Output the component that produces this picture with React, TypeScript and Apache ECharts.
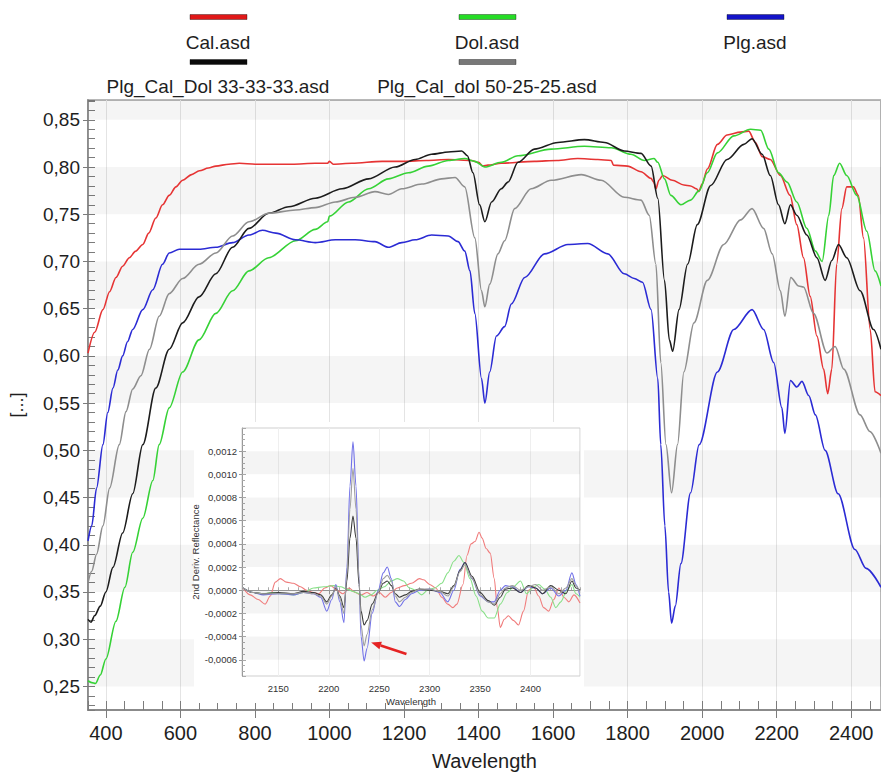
import React, { useEffect, useRef } from "react";
import * as echarts from "echarts";

const FONT = '"Liberation Sans", Arial, Helvetica, sans-serif';

// ---------- series meta ----------
const seriesNames = [
  "Cal.asd",
  "Dol.asd",
  "Plg.asd",
  "Plg_Cal_Dol 33-33-33.asd",
  "Plg_Cal_dol 50-25-25.asd",
];
const mainColors = ["#e63434", "#36d236", "#2b2bd4", "#1c1c1c", "#8e8e8e"];
const insetColors = ["#f07c7c", "#88e088", "#7070e8", "#3a3a3a", "#9e9e9e"];
const legendColors = ["#e01818", "#26dc26", "#1414c8", "#0a0a0a", "#787878"];

// ---------- main spectra: [wavelength nm, reflectance] ----------
const calSpectrum: number[][] = [
  [352, 0.603], [370, 0.625], [392, 0.649], [410, 0.668], [427, 0.683], [445, 0.695],
  [463, 0.704], [480, 0.711], [499, 0.718], [515, 0.73], [534, 0.746], [552, 0.76],
  [570, 0.77], [588, 0.779], [606, 0.786], [630, 0.792], [651, 0.796], [675, 0.799],
  [695, 0.801], [730, 0.803], [758, 0.804], [801, 0.803], [850, 0.803], [900, 0.803],
  [962, 0.804], [995, 0.804], [1000, 0.806], [1010, 0.803], [1060, 0.804], [1141, 0.806],
  [1200, 0.806], [1260, 0.807], [1319, 0.808], [1381, 0.807], [1400, 0.805], [1412, 0.801],
  [1425, 0.802], [1461, 0.804], [1550, 0.806], [1610, 0.807], [1666, 0.809], [1720, 0.808],
  [1756, 0.807], [1762, 0.802], [1800, 0.801], [1836, 0.795], [1863, 0.788], [1870, 0.784],
  [1876, 0.777], [1884, 0.786], [1894, 0.791], [1920, 0.786], [1951, 0.781], [1969, 0.78],
  [1985, 0.777], [1991, 0.774], [2000, 0.782], [2014, 0.798], [2041, 0.824], [2067, 0.834],
  [2103, 0.837], [2125, 0.838], [2143, 0.826], [2161, 0.811], [2183, 0.808], [2210, 0.791],
  [2236, 0.77], [2254, 0.739], [2272, 0.704], [2290, 0.663], [2308, 0.621], [2326, 0.586],
  [2337, 0.56], [2348, 0.586], [2361, 0.697], [2375, 0.756], [2388, 0.779], [2406, 0.779],
  [2419, 0.77], [2433, 0.725], [2451, 0.628], [2464, 0.562], [2480, 0.558],
];

const dolSpectrum: number[][] = [
  [352, 0.256], [362, 0.254], [372, 0.253], [385, 0.262], [400, 0.279], [427, 0.319],
  [451, 0.355], [472, 0.392], [499, 0.428], [526, 0.468], [543, 0.506], [570, 0.545],
  [606, 0.583], [650, 0.617], [695, 0.645], [740, 0.669], [784, 0.69], [837, 0.704],
  [909, 0.722], [962, 0.734], [995, 0.742], [1000, 0.748], [1051, 0.763], [1105, 0.777],
  [1158, 0.7875], [1212, 0.794], [1265, 0.801], [1319, 0.807], [1363, 0.809], [1390, 0.806],
  [1417, 0.8], [1461, 0.805], [1506, 0.812], [1595, 0.819], [1684, 0.822], [1756, 0.8205],
  [1809, 0.8135], [1845, 0.807], [1871, 0.809], [1881, 0.805], [1899, 0.7875], [1916, 0.77],
  [1943, 0.76], [1969, 0.765], [1992, 0.775], [2014, 0.794], [2041, 0.815], [2085, 0.833],
  [2130, 0.84], [2157, 0.839], [2179, 0.819], [2205, 0.794], [2228, 0.784], [2254, 0.763],
  [2281, 0.735], [2304, 0.711], [2322, 0.7], [2340, 0.749], [2353, 0.791], [2369, 0.804],
  [2388, 0.791], [2415, 0.77], [2442, 0.732], [2464, 0.69], [2480, 0.674],
];

const plgSpectrum: number[][] = [
  [352, 0.404], [362, 0.42], [375, 0.46], [392, 0.506], [405, 0.54], [419, 0.566],
  [432, 0.585], [445, 0.6], [458, 0.615], [472, 0.628], [499, 0.649], [526, 0.67],
  [552, 0.697], [570, 0.709], [597, 0.713], [650, 0.713], [695, 0.715], [740, 0.72],
  [784, 0.728], [820, 0.733], [856, 0.73], [909, 0.723], [962, 0.72], [1016, 0.723],
  [1069, 0.723], [1122, 0.721], [1158, 0.715], [1194, 0.72], [1230, 0.723], [1274, 0.728],
  [1319, 0.727], [1345, 0.721], [1363, 0.711], [1377, 0.69], [1390, 0.645], [1408, 0.576],
  [1417, 0.55], [1430, 0.583], [1448, 0.621], [1470, 0.631], [1488, 0.655], [1524, 0.683],
  [1577, 0.708], [1640, 0.718], [1693, 0.719], [1747, 0.708], [1791, 0.687], [1818, 0.682],
  [1840, 0.678], [1863, 0.649], [1881, 0.576], [1889, 0.506], [1900, 0.42], [1910, 0.35],
  [1918, 0.317], [1928, 0.335], [1943, 0.38], [1969, 0.455], [1992, 0.506], [2041, 0.583],
  [2085, 0.628], [2134, 0.649], [2165, 0.628], [2192, 0.593], [2214, 0.545], [2222, 0.518],
  [2237, 0.574], [2254, 0.567], [2268, 0.573], [2286, 0.558], [2304, 0.5375], [2330, 0.5],
  [2365, 0.454], [2410, 0.395], [2440, 0.375], [2480, 0.355],
];

const mix333333Spectrum: number[][] = [
  [352, 0.321], [360, 0.318], [370, 0.325], [385, 0.335], [400, 0.35], [419, 0.376],
  [445, 0.4125], [472, 0.454], [499, 0.506], [534, 0.566], [570, 0.607], [606, 0.635],
  [650, 0.6625], [695, 0.687], [740, 0.715], [784, 0.735], [837, 0.751], [891, 0.758],
  [962, 0.767], [1034, 0.777], [1105, 0.7875], [1176, 0.8], [1230, 0.808], [1274, 0.8135],
  [1319, 0.816], [1355, 0.817], [1370, 0.812], [1385, 0.794], [1403, 0.76], [1417, 0.742],
  [1435, 0.763], [1461, 0.777], [1479, 0.784], [1506, 0.805], [1550, 0.819], [1613, 0.826],
  [1684, 0.829], [1738, 0.826], [1791, 0.817], [1836, 0.8145], [1863, 0.801], [1881, 0.767],
  [1899, 0.68], [1912, 0.617], [1921, 0.605], [1938, 0.649], [1961, 0.697], [1987, 0.739],
  [2023, 0.7805], [2067, 0.808], [2112, 0.824], [2134, 0.83], [2161, 0.8135], [2183, 0.791],
  [2205, 0.76], [2222, 0.74], [2237, 0.76], [2254, 0.749], [2281, 0.728], [2308, 0.704],
  [2330, 0.68], [2348, 0.701], [2366, 0.718], [2388, 0.704], [2424, 0.669], [2460, 0.628],
  [2480, 0.607],
];

const mix502525Spectrum: number[][] = [
  [352, 0.36], [362, 0.372], [375, 0.39], [392, 0.42], [410, 0.46], [436, 0.506],
  [454, 0.541], [472, 0.565], [494, 0.579], [517, 0.607], [543, 0.642], [570, 0.666],
  [606, 0.682], [650, 0.697], [695, 0.709], [740, 0.727], [784, 0.742], [837, 0.751],
  [909, 0.7545], [962, 0.757], [1016, 0.763], [1069, 0.768], [1122, 0.774], [1158, 0.771],
  [1194, 0.777], [1248, 0.782], [1301, 0.7875], [1337, 0.789], [1363, 0.779], [1390, 0.725],
  [1408, 0.669], [1417, 0.652], [1430, 0.676], [1452, 0.708], [1470, 0.722], [1497, 0.756],
  [1541, 0.777], [1595, 0.786], [1676, 0.792], [1729, 0.786], [1791, 0.768], [1836, 0.765],
  [1858, 0.749], [1876, 0.697], [1889, 0.593], [1903, 0.506], [1918, 0.455], [1934, 0.506],
  [1951, 0.583], [1978, 0.635], [2014, 0.68], [2058, 0.718], [2103, 0.744], [2134, 0.756],
  [2165, 0.735], [2188, 0.708], [2210, 0.669], [2222, 0.642], [2238, 0.683], [2259, 0.674],
  [2272, 0.673], [2299, 0.645], [2335, 0.603], [2357, 0.61], [2380, 0.586], [2424, 0.5375],
  [2450, 0.52], [2480, 0.497],
];

// ---------- inset: 2nd derivative spectra ----------
const calDeriv: number[][] = [
  [2115, 0.00002], [2122, -0.00004], [2130, -0.00008], [2137, -0.00012], [2142, -0.00005],
  [2147, 0.00007], [2152, 0.0001], [2158, 0.00007], [2165, 0.00006], [2172, 0.00003],
  [2178, 0], [2185, -0.00002], [2190, -0.00003], [2196, 0.00002], [2202, 0.00004],
  [2208, 0], [2214, -0.00003], [2220, 0.00002], [2226, -0.00002], [2232, -0.00004],
  [2238, -0.00002], [2244, -0.00005], [2250, -0.00002], [2256, -0.00006], [2262, -0.00002],
  [2268, 0.00002], [2275, 0.00004], [2282, 0.00006], [2290, 0.0001], [2294, 0.00009],
  [2300, 0.00005], [2306, 0.00002], [2312, -0.00006], [2318, -0.00012], [2323, -0.00015],
  [2327, -0.00012], [2333, 0.00005], [2337, 0.0003], [2341, 0.0004], [2345, 0.00042],
  [2349, 0.0005], [2352, 0.00045], [2356, 0.00036], [2360, 0.00032], [2364, 0.0001],
  [2367, -0.00015], [2370, -0.00032], [2374, -0.00025], [2378, -0.00022], [2383, -0.00026],
  [2388, -0.0003], [2393, -0.00018], [2398, 0], [2403, 0.00003], [2408, -0.00005],
  [2413, -0.00015], [2418, -0.00018], [2423, -0.00008], [2428, 0.00002], [2433, -0.00006],
  [2438, -0.0001], [2443, -0.00004], [2449, -0.00011],
];

const dolDeriv: number[][] = [
  [2115, 0.00002], [2125, -0.00002], [2135, -0.00003], [2145, -0.00002], [2155, -0.00003],
  [2165, -0.00004], [2175, -0.00002], [2185, 0.00002], [2195, 0.00003], [2205, 0.00004],
  [2212, 0.00003], [2218, 0.00001], [2224, -0.00001], [2230, -0.00003], [2236, -0.00006],
  [2242, -0.00004], [2248, 0], [2255, 0.00003], [2262, 0.00008], [2268, 0.0001],
  [2274, 0.00008], [2280, 0.00002], [2286, 0], [2292, -0.00004], [2298, 0], [2305, 0.00002],
  [2312, 0.00006], [2318, 0.00015], [2324, 0.00025], [2329, 0.0003], [2334, 0.00024],
  [2340, 0.0001], [2346, -0.00005], [2352, -0.00018], [2358, -0.00024], [2364, -0.00024],
  [2370, -0.00012], [2377, -0.00002], [2383, 0.00003], [2390, 0.00008], [2396, -0.00003],
  [2402, 0.00002], [2408, 0.00005], [2414, 0.00001], [2420, -0.00006], [2425, -0.00015],
  [2430, -0.0001], [2436, 0], [2441, 0.00005], [2445, -0.00003], [2449, -0.00006],
];

const plgDeriv: number[][] = [
  [2115, 0.00002], [2125, -0.00002], [2135, -0.00004], [2150, -0.00003], [2165, -0.00004],
  [2175, -0.00002], [2185, -0.00003], [2192, -0.00006], [2198, -0.00018], [2203, -0.00008],
  [2207, 0.00005], [2211, -0.0001], [2215, -0.00028], [2218, 0.0002], [2221, 0.0009],
  [2224, 0.00128], [2227, 0.0009], [2230, 0.0001], [2232, -0.0004], [2235, -0.00061],
  [2238, -0.0005], [2243, -0.0002], [2249, 0], [2254, 0.00015], [2258, 0.0002],
  [2262, 0.0001], [2266, -0.0001], [2270, -0.00014], [2276, -0.00008], [2282, -0.00003],
  [2290, 0], [2300, 0.00001], [2310, -0.00002], [2318, -0.0001], [2324, 0], [2330, 0.00018],
  [2335, 0.00024], [2342, 0.0001], [2350, -0.00005], [2358, -0.0001], [2364, -0.0001],
  [2370, 0], [2375, 0.00004], [2382, 0.00003], [2390, -0.00002], [2398, 0.00003],
  [2405, 0.00002], [2412, -0.00003], [2420, 0.00002], [2428, -0.00005], [2435, 0],
  [2441, 0.00015], [2445, 0.00005], [2449, -0.00005],
];

const mix333333Deriv: number[][] = [
  [2115, 0.00002], [2125, -0.00002], [2135, -0.00003], [2150, -0.00002], [2165, -0.00003],
  [2175, -0.00001], [2185, -0.00002], [2192, -0.00004], [2198, -0.0001], [2203, -0.00004],
  [2207, 0.00002], [2211, -0.00005], [2215, -0.00015], [2218, 0.00008], [2221, 0.00045],
  [2224, 0.00064], [2227, 0.00045], [2230, 0.00005], [2232, -0.00018], [2235, -0.0003],
  [2238, -0.00026], [2243, -0.00012], [2249, -0.00002], [2254, 0.00006], [2258, 0.00008],
  [2262, 0.00004], [2266, -0.00003], [2270, -0.00006], [2276, -0.00004], [2282, -0.00001],
  [2290, 0.00001], [2300, 0], [2310, -0.00001], [2318, -0.00003], [2324, 0.00004],
  [2330, 0.00017], [2335, 0.00024], [2342, 0.00012], [2350, -0.00002], [2358, -0.00009],
  [2364, -0.00013], [2370, -0.00006], [2375, 0.00001], [2382, 0.00002], [2390, -0.00002],
  [2398, 0.00004], [2405, 0.00002], [2412, -0.00003], [2420, 0.00004], [2428, 0],
  [2435, -0.00003], [2441, 0.00008], [2445, 0.00002], [2449, 0],
];

const mix502525Deriv: number[][] = [
  [2115, 0.00002], [2125, -0.00002], [2135, -0.00003], [2150, -0.00003], [2165, -0.00003],
  [2175, -0.00002], [2185, -0.00003], [2192, -0.00005], [2198, -0.00012], [2203, -0.00005],
  [2207, 0.00003], [2211, -0.00007], [2215, -0.0002], [2218, 0.00015], [2221, 0.0007],
  [2224, 0.00105], [2227, 0.0007], [2230, 0.0001], [2232, -0.0003], [2235, -0.00048],
  [2238, -0.00038], [2243, -0.00017], [2249, -0.00002], [2254, 0.0001], [2258, 0.00013],
  [2262, 0.00008], [2266, -0.00005], [2270, -0.0001], [2276, -0.00006], [2282, -0.00002],
  [2290, 0.00001], [2300, 0.00001], [2310, -0.00001], [2318, -0.00005], [2324, 0.00003],
  [2330, 0.00016], [2335, 0.00022], [2342, 0.0001], [2350, -0.00004], [2358, -0.0001],
  [2364, -0.00012], [2370, -0.00003], [2375, 0.00002], [2382, 0.00004], [2390, 0],
  [2398, 0.00003], [2405, 0.00005], [2412, 0], [2420, 0.00003], [2428, -0.00003],
  [2435, 0.00002], [2441, 0.0001], [2445, 0.00004], [2449, -0.00002],
];

const mainSpectra = [calSpectrum, dolSpectrum, plgSpectrum, mix333333Spectrum, mix502525Spectrum];
const insetSpectra = [calDeriv, dolDeriv, plgDeriv, mix333333Deriv, mix502525Deriv];

// axis ranges
const mainX = { min: 352, max: 2480 };
const mainY = { min: 0.225, max: 0.871 };
const insetX = { min: 2114, max: 2449 };
const insetY = { min: -0.00074, max: 0.0014 };

// shaded horizontal bands (value ranges)
const mainBands = [[0.25, 0.3], [0.35, 0.4], [0.45, 0.5], [0.55, 0.6], [0.65, 0.7], [0.75, 0.8], [0.85, 0.871]];
const insetBands = [[-0.0006, -0.0004], [-0.0002, 0], [0.0002, 0.0004], [0.0006, 0.0008], [0.001, 0.0012]];

// arrow annotation in inset data coordinates (tail -> tip)
const arrowTail = [2277, -0.00055];
const arrowTip = [2242, -0.00045];

// legend layout: [centerX, iconY, textY]
const legendLayout = [
  [218, 17, 42],
  [487, 17, 42],
  [755, 17, 42],
  [218, 62, 86],
  [487, 62, 86],
];

const AX = "#7c7c7c";

function fmtMain(v: number) {
  return v.toFixed(2).replace(".", ",");
}
function fmtInset(v: number) {
  const x = Math.abs(v) < 1e-9 ? 0 : v;
  return x.toFixed(4).replace(".", ",");
}
function fmtPlain(v: number) {
  return String(Math.round(v));
}

function buildOption(): any {
  const bandsToMark = (bands: number[][]) =>
    bands.map(([a, b]) => [{ yAxis: a }, { yAxis: b }]);

  const mainSeries = mainSpectra.map((d, i) => ({
    name: seriesNames[i],
    type: "line",
    xAxisIndex: 0,
    yAxisIndex: 0,
    data: d,
    showSymbol: false,
    smooth: 0.3,
    smoothMonotone: "x",
    lineStyle: { color: mainColors[i], width: 1.6 },
    itemStyle: { color: mainColors[i] },
    z: 3,
    markArea:
      i === 0
        ? {
            silent: true,
            itemStyle: { color: "rgba(0,0,0,0.04)" },
            data: bandsToMark(mainBands),
          }
        : undefined,
  }));

  const insetSeries = insetSpectra.map((d, i) => ({
    name: seriesNames[i] + " (2nd deriv.)",
    type: "line",
    xAxisIndex: 2,
    yAxisIndex: 2,
    data: d,
    showSymbol: false,
    smooth: 0.3,
    smoothMonotone: "x",
    lineStyle: { color: insetColors[i], width: 1.1 },
    itemStyle: { color: insetColors[i] },
    z: 12,
    markArea:
      i === 0
        ? {
            silent: true,
            itemStyle: { color: "rgba(0,0,0,0.045)" },
            data: bandsToMark(insetBands),
            z: 11,
          }
        : undefined,
  }));

  return {
    animation: false,
    backgroundColor: "#ffffff",
    textStyle: { fontFamily: FONT },
    grid: [
      {
        left: 85,
        top: 100,
        right: 0,
        bottom: 56,
        show: true,
        borderColor: "#b8b8b8",
        borderWidth: 2,
        backgroundColor: "transparent",
      },
      {
        left: 242,
        top: 428,
        width: 338,
        height: 248,
        show: true,
        borderColor: "#cfcfcf",
        borderWidth: 1,
        backgroundColor: "transparent",
        z: 10,
      },
    ],
    xAxis: [
      {
        type: "value",
        gridIndex: 0,
        position: "bottom",
        min: mainX.min,
        max: mainX.max,
        splitNumber: 10,
        axisLine: { lineStyle: { color: AX, width: 1.5 } },
        axisTick: { show: true, inside: false, length: 8, lineStyle: { color: AX } },
        axisLabel: {
          fontSize: 20,
          color: "#1e1e1e",
          fontFamily: FONT,
          margin: 13,
          formatter: fmtPlain,
          showMinLabel: false,
          showMaxLabel: false,
        },
        splitLine: { show: true, lineStyle: { color: "#e4e4e4", width: 1 } },
        name: "Wavelength",
        nameLocation: "middle",
        nameGap: 41,
        nameTextStyle: { fontSize: 20, color: "#1e1e1e", fontFamily: FONT },
      },
      {
        type: "value",
        gridIndex: 0,
        position: "bottom",
        min: mainX.min,
        max: mainX.max,
        splitNumber: 10,
        axisLine: { show: false },
        axisTick: { show: true, inside: true, length: 9, lineStyle: { color: AX } },
        minorTick: { show: true, splitNumber: 4, length: 9, lineStyle: { color: AX } },
        axisLabel: { show: false },
        splitLine: { show: false },
      },
      {
        type: "value",
        gridIndex: 1,
        position: "bottom",
        min: insetX.min,
        max: insetX.max,
        splitNumber: 7,
        z: 10,
        axisLine: { lineStyle: { color: "#999", width: 1 } },
        axisTick: { show: true, inside: false, length: 4, lineStyle: { color: "#999" } },
        axisLabel: {
          fontSize: 9.5,
          color: "#333",
          fontFamily: FONT,
          margin: 7,
          formatter: fmtPlain,
          showMinLabel: false,
          showMaxLabel: false,
        },
        splitLine: { show: true, lineStyle: { color: "#efefef" } },
        name: "Wavelength",
        nameLocation: "middle",
        nameGap: 20,
        nameTextStyle: { fontSize: 9.5, color: "#333", fontFamily: FONT },
      },
      {
        type: "value",
        gridIndex: 1,
        position: "bottom",
        min: insetX.min,
        max: insetX.max,
        splitNumber: 7,
        z: 10,
        axisLine: { show: false },
        axisTick: { show: true, inside: true, length: 3, lineStyle: { color: "#aaa" } },
        minorTick: { show: true, splitNumber: 5, length: 3, lineStyle: { color: "#aaa" } },
        axisLabel: { show: false },
        splitLine: { show: false },
      },
    ],
    yAxis: [
      {
        type: "value",
        gridIndex: 0,
        position: "left",
        min: mainY.min,
        max: mainY.max,
        splitNumber: 12,
        axisLine: { show: true, lineStyle: { color: AX, width: 1.5 } },
        axisTick: { show: true, inside: false, length: 5, lineStyle: { color: AX } },
        axisLabel: {
          fontSize: 19,
          color: "#1e1e1e",
          fontFamily: FONT,
          margin: 8,
          formatter: fmtMain,
          showMinLabel: false,
          showMaxLabel: false,
        },
        splitLine: { show: false },
        name: "[...]",
        nameLocation: "middle",
        nameGap: 62,
        nameRotate: 90,
        nameTextStyle: { fontSize: 18, color: "#1e1e1e", fontFamily: FONT },
      },
      {
        type: "value",
        gridIndex: 0,
        position: "left",
        min: mainY.min,
        max: mainY.max,
        splitNumber: 12,
        axisLine: { show: false },
        axisTick: { show: true, inside: true, length: 7, lineStyle: { color: AX } },
        minorTick: { show: true, splitNumber: 5, length: 7, lineStyle: { color: AX } },
        axisLabel: { show: false },
        splitLine: { show: false },
      },
      {
        type: "value",
        gridIndex: 1,
        position: "left",
        min: insetY.min,
        max: insetY.max,
        splitNumber: 11,
        z: 10,
        axisLine: { show: true, lineStyle: { color: "#999", width: 1 } },
        axisTick: { show: true, inside: false, length: 3, lineStyle: { color: "#999" } },
        axisLabel: {
          fontSize: 9.5,
          color: "#333",
          fontFamily: FONT,
          margin: 5,
          formatter: fmtInset,
          showMinLabel: false,
          showMaxLabel: false,
        },
        splitLine: { show: false },
        name: "2nd Deriv. Reflectance",
        nameLocation: "middle",
        nameGap: 42,
        nameRotate: 90,
        nameTextStyle: { fontSize: 9.5, color: "#333", fontFamily: FONT },
      },
      {
        type: "value",
        gridIndex: 1,
        position: "left",
        min: insetY.min,
        max: insetY.max,
        splitNumber: 11,
        z: 10,
        axisLine: { show: false },
        axisTick: { show: true, inside: true, length: 4, lineStyle: { color: "#aaa" } },
        minorTick: { show: true, splitNumber: 4, length: 3, lineStyle: { color: "#aaa" } },
        axisLabel: { show: false },
        splitLine: { show: false },
      },
    ],
    series: [...mainSeries, ...insetSeries],
  };
}

function buildGraphics(chart: any): any[] {
  const g: any[] = [];
  // white panel behind the inset chart
  g.push({
    type: "rect",
    id: "insetPanel",
    silent: true,
    z: 6,
    shape: { x: 194, y: 422, width: 390, height: 281 },
    style: { fill: "#ffffff" },
  });
  // legend (icon above label)
  seriesNames.forEach((name, i) => {
    const [cx, iy, ty] = legendLayout[i];
    g.push({
      type: "rect",
      id: "legIcon" + i,
      silent: true,
      z: 20,
      shape: { x: cx - 28, y: iy - 2.5, width: 57, height: 5 },
      style: { fill: legendColors[i], stroke: "rgba(0,0,0,0.45)", lineWidth: 0.8 },
    });
    g.push({
      type: "text",
      id: "legText" + i,
      silent: true,
      z: 20,
      x: cx,
      y: ty,
      style: {
        text: name,
        fill: "#1e1e1e",
        font: `19px ${FONT}`,
        textAlign: "center",
        textVerticalAlign: "middle",
      },
    });
  });
  // red arrow in the inset
  const tail = chart.convertToPixel({ gridIndex: 1 }, arrowTail);
  const tip = chart.convertToPixel({ gridIndex: 1 }, arrowTip);
  if (tail && tip) {
    const dx = tip[0] - tail[0];
    const dy = tip[1] - tail[1];
    const len = Math.sqrt(dx * dx + dy * dy) || 1;
    const ux = dx / len;
    const uy = dy / len;
    const headLen = 10;
    const headHalf = 4;
    const bx = tip[0] - ux * headLen;
    const by = tip[1] - uy * headLen;
    g.push({
      type: "line",
      id: "arrowShaft",
      silent: true,
      z: 30,
      shape: { x1: tail[0], y1: tail[1], x2: bx, y2: by },
      style: { stroke: "#e52323", lineWidth: 2.6 },
    });
    g.push({
      type: "polygon",
      id: "arrowHead",
      silent: true,
      z: 30,
      shape: {
        points: [
          [tip[0], tip[1]],
          [bx - uy * headHalf, by + ux * headHalf],
          [bx + uy * headHalf, by - ux * headHalf],
        ],
      },
      style: { fill: "#e52323" },
    });
  }
  return g;
}

export default function App() {
  const ref = useRef<HTMLDivElement>(null);
  useEffect(() => {
    const el = ref.current;
    if (!el) return;
    const chart = echarts.init(el, null, { renderer: "svg" });
    chart.setOption(buildOption());
    chart.setOption({ graphic: buildGraphics(chart) });
    return () => {
      chart.dispose();
    };
  }, []);
  return (
    <div
      ref={ref}
      style={{ position: "fixed", left: 0, top: 0, width: 881, height: 776, background: "#fff" }}
    />
  );
}
